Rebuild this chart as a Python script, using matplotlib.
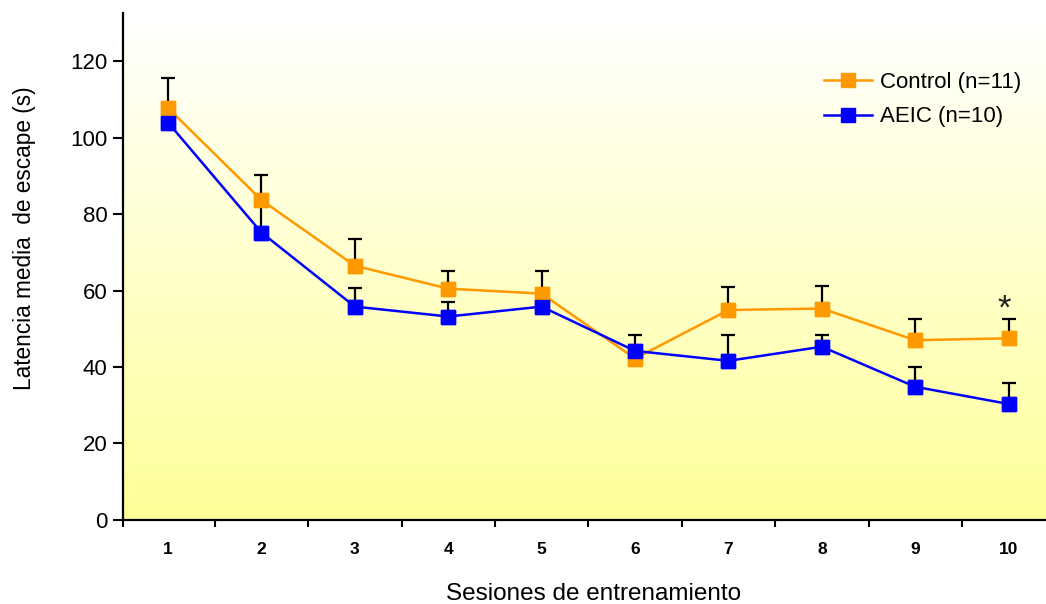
import matplotlib.pyplot as plt
import numpy as np
from matplotlib.colors import LinearSegmentedColormap

plt.rcParams['font.family'] = ['Liberation Sans', 'DejaVu Sans']

# Sesiones de entrenamiento y latencias medias (s)
sesiones = [1, 2, 3, 4, 5, 6, 7, 8, 9, 10]
control_media = [107.8, 83.7, 66.5, 60.5, 59.2, 42.2, 54.9, 55.3, 47.0, 47.5]
control_eem = [7.9, 6.6, 7.0, 4.7, 6.0, 3.0, 6.1, 5.8, 5.5, 5.0]
aeic_media = [104.0, 75.2, 55.8, 53.2, 55.8, 44.2, 41.6, 45.3, 34.8, 30.3]
aeic_eem = [3.5, 8.5, 5.0, 3.7, 2.8, 4.1, 6.8, 3.1, 5.3, 5.5]
sesion_significativa = 10

naranja = '#FF9900'
azul = '#0000FF'

fig = plt.figure(figsize=(10.46, 6.04), dpi=100)
ax = fig.add_axes([123 / 1046, 84.3 / 604, 923 / 1046, 506.4 / 604])

ax.set_xlim(0.518, 10.4)
ax.set_ylim(0, 132.6)

# Fondo degradado blanco -> amarillo
fondo = LinearSegmentedColormap.from_list('fondo', ['#FFFF99', '#FFFFFF'])
grad = np.linspace(0, 1, 256).reshape(-1, 1)
ax.imshow(grad, cmap=fondo, origin='lower', aspect='auto',
          extent=[0, 1, 0, 1], transform=ax.transAxes, zorder=0)

# Líneas
ax.plot(sesiones, control_media, color=naranja, lw=1.8, marker='s', ms=10.5,
        mec=naranja, label='Control (n=11)', zorder=2)
ax.plot(sesiones, aeic_media, color=azul, lw=1.8, marker='s', ms=10.5,
        mec=azul, label='AEIC (n=10)', zorder=2)

# Barras de error (solo hacia arriba)
for media, eem in [(control_media, control_eem), (aeic_media, aeic_eem)]:
    ax.errorbar(sesiones, media, yerr=[np.zeros(len(eem)), eem], fmt='none',
                ecolor='black', elinewidth=1.6, capsize=5, capthick=1.6, zorder=3)

# Marcadores encima de las barras
ax.plot(sesiones, control_media, ls='none', marker='s', ms=10.5,
        color=naranja, mec=naranja, zorder=4)
ax.plot(sesiones, aeic_media, ls='none', marker='s', ms=10.5,
        color=azul, mec=azul, zorder=5)

i = sesiones.index(sesion_significativa)
ax.text(sesion_significativa - 0.05, control_media[i] + control_eem[i] + 2.6, '*',
        ha='center', va='center', fontsize=25, color='#222222')

ax.spines['top'].set_visible(False)
ax.spines['right'].set_visible(False)
ax.spines['left'].set_linewidth(1.6)
ax.spines['bottom'].set_linewidth(1.6)

ax.set_yticks(range(0, 121, 20))
ax.tick_params(axis='y', length=7, width=1.5, labelsize=16, pad=4)
ax.set_xticks(sesiones)
ax.set_xticklabels([str(s) for s in sesiones], fontweight='bold', fontsize=12.5)
ax.tick_params(axis='x', which='major', length=0, pad=16)
ax.set_xticks([0.518] + [s + 0.5 for s in sesiones[:-1]], minor=True)
ax.tick_params(axis='x', which='minor', length=5, width=1.5)

ax.set_xlabel('Sesiones de entrenamiento', fontsize=17.5)
ax.xaxis.set_label_coords(0.51, -0.125)
ax.set_ylabel('Latencia media  de escape (s)', fontsize=16.3)
ax.yaxis.set_label_coords(-0.094, 0.555)

ax.legend(loc='upper left', bbox_to_anchor=(824 / 1046, 1 - 72 / 604),
          bbox_transform=fig.transFigure, frameon=False, fontsize=16,
          handlelength=2.15, handletextpad=0.35, labelspacing=0.6,
          borderpad=0, borderaxespad=0)

fig.savefig('out.png', dpi=100)
